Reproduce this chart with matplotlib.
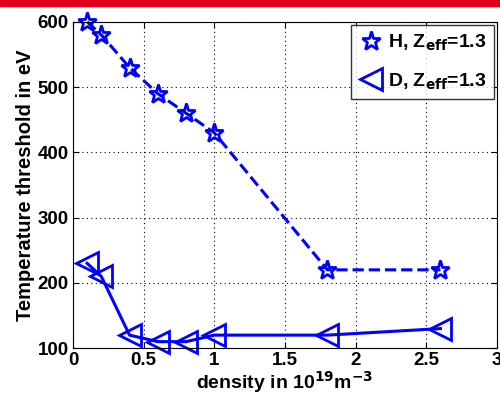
import matplotlib
matplotlib.use("Agg")
import matplotlib.pyplot as plt
from matplotlib.patches import Rectangle

# data
density_h = [0.1, 0.2, 0.4, 0.6, 0.8, 1.0, 1.8, 2.6]
temp_h = [600, 580, 530, 490, 460, 430, 220, 220]

density_d = [0.1, 0.2, 0.4, 0.6, 0.8, 1.0, 1.8, 2.6]
temp_d = [230, 210, 120, 110, 110, 120, 120, 130]

x_ticks = [0, 0.5, 1, 1.5, 2, 2.5, 3]
y_ticks = [100, 200, 300, 400, 500, 600]

plt.rcParams['font.family'] = ['Liberation Sans', 'DejaVu Sans']
plt.rcParams['font.weight'] = 'bold'

fig = plt.figure(figsize=(5.0, 3.97), dpi=100)
fig.patches.append(Rectangle((0, 1 - 6 / 397), 1, 6 / 397, transform=fig.transFigure,
                             color='#e0001a', zorder=0))

ax = fig.add_axes([0.146, 0.123, 0.848, 0.822])

ax.plot(density_h, temp_h, '--', color='blue', lw=2.2, marker='*', ms=14,
        mfc='none', mec='blue', mew=2, label=r'H, Z$_{\mathbf{eff}}$=1.3', clip_on=False)
ax.plot(density_d, temp_d, '-', color='blue', lw=2.2, marker='<', ms=16,
        mfc='none', mec='blue', mew=2, label=r'D, Z$_{\mathbf{eff}}$=1.3', clip_on=False)

ax.set_xlim(0, 3)
ax.set_ylim(100, 600)
ax.set_xticks(x_ticks)
ax.set_xticklabels(['0', '0.5', '1', '1.5', '2', '2.5', '3'])
ax.set_yticks(y_ticks)
ax.tick_params(direction='in', labelsize=13.5, length=4, top=True, right=True, pad=3)
for lab in ax.get_xticklabels() + ax.get_yticklabels():
    lab.set_fontweight('bold')
ax.grid(True, linestyle=(0, (1, 3)), color='black', lw=0.8)

ax.set_xlabel(r'density in 10$^{\mathbf{19}}$m$^{\mathbf{-3}}$', fontsize=14,
              fontweight='bold', labelpad=0)
ax.set_ylabel('Temperature threshold in eV', fontsize=14.5, fontweight='bold', labelpad=2)

leg = ax.legend(loc='upper right', frameon=True, fancybox=False,
                edgecolor='black', handlelength=1.3, borderpad=0.4,
                labelspacing=0.95, handletextpad=0.2, borderaxespad=0.15,
                prop={'weight': 'bold', 'size': 14})
leg.get_frame().set_linewidth(1)
for h in leg.legend_handles:
    h.set_linestyle('none')

plt.savefig('out.png', dpi=100)
